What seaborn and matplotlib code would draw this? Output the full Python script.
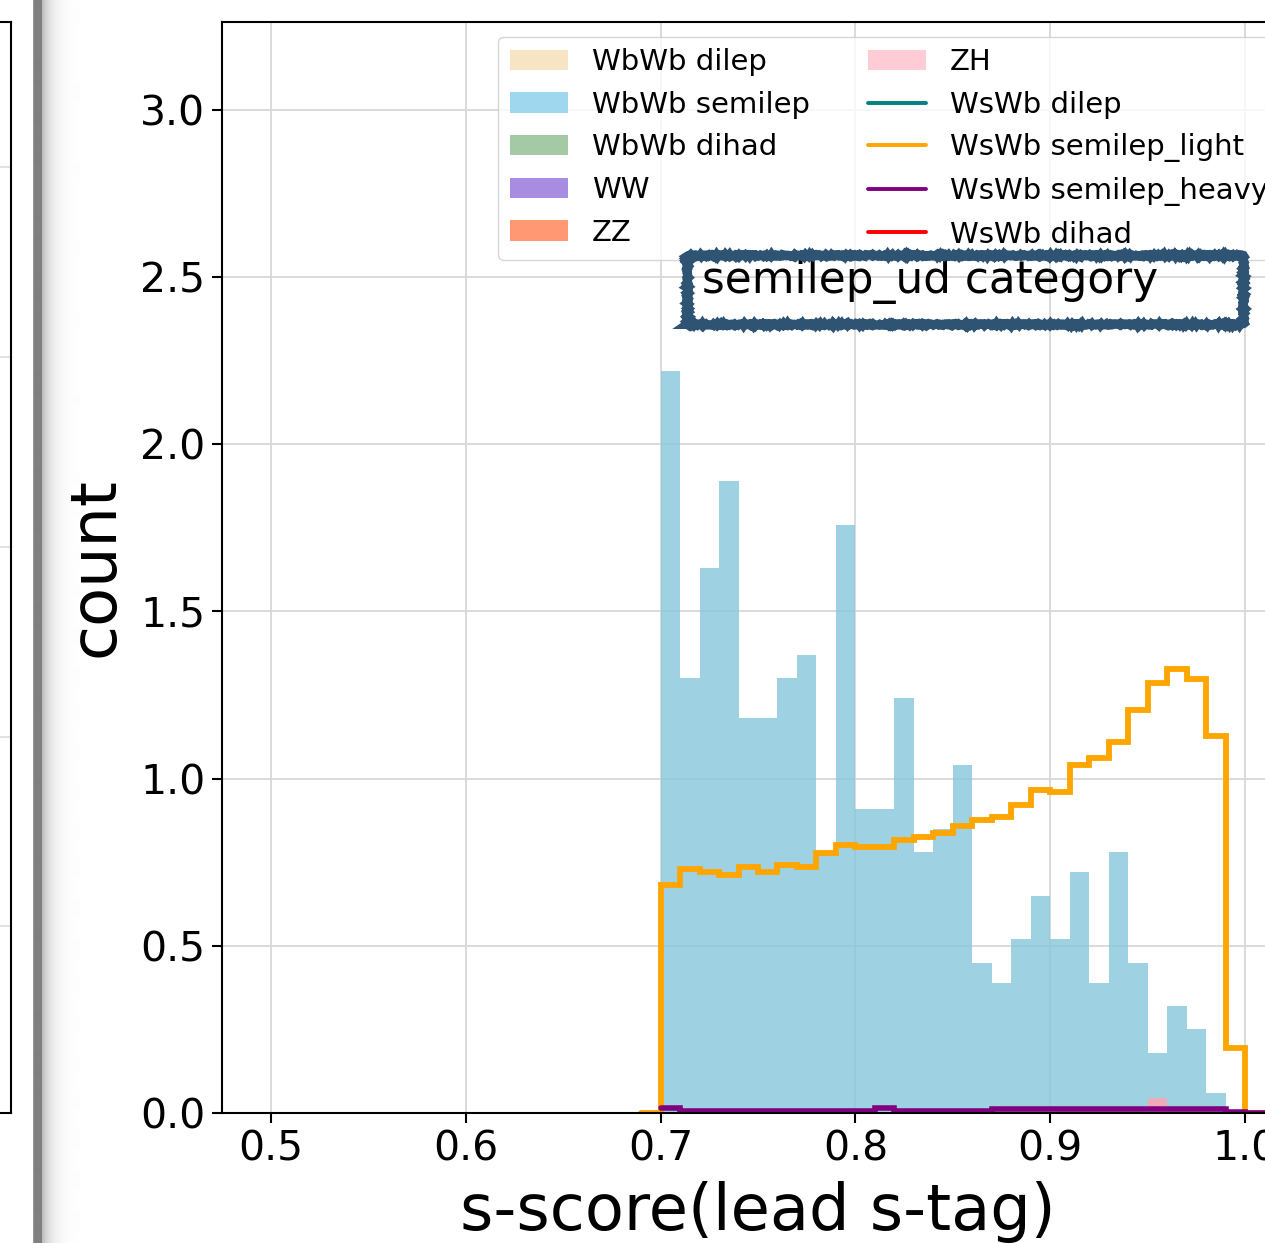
import numpy as np
import pandas as pd
import matplotlib
matplotlib.use("Agg")
import matplotlib.pyplot as plt
import seaborn as sns
from matplotlib.patches import Patch, Rectangle
from matplotlib.lines import Line2D

# bin edges of the s-score histogram (0.01 wide), one empty bin on each side
bin_edges = [round(v, 2) for v in np.arange(0.69, 1.0150, 0.01)]
bin_centers = [round(v, 3) for v in np.arange(0.705, 1.0, 0.01)]

# filled histograms (heights)
wbwb_semilep = [2.22, 1.30, 1.63, 1.89, 1.18, 1.18, 1.30, 1.37, 0.78, 1.76,
                0.91, 0.91, 1.24, 0.78, 0.85, 1.04, 0.45, 0.39, 0.52, 0.65,
                0.52, 0.72, 0.39, 0.78, 0.45, 0.18, 0.32, 0.25, 0.06, 0.0]
zh = [0.0] * 25 + [0.045] + [0.0] * 4

# step histograms
wswb_semilep_light = [0.683, 0.731, 0.720, 0.713, 0.735, 0.720, 0.743, 0.735, 0.779, 0.801,
                      0.795, 0.795, 0.816, 0.824, 0.838, 0.858, 0.877, 0.885, 0.920, 0.967,
                      0.959, 1.040, 1.062, 1.111, 1.205, 1.287, 1.328, 1.298, 1.129, 0.194]
wswb_semilep_heavy = [0.014] + [0.007] * 10 + [0.014] + [0.007] * 5 + [0.012] * 12 + [0.003]

fill_labels = ["WbWb dilep", "WbWb semilep", "WbWb dihad", "WW", "ZZ", "ZH"]
fill_colors = ["wheat", "skyblue", "darkseagreen", "mediumpurple", "coral", "pink"]
line_labels = ["WsWb dilep", "WsWb semilep_light", "WsWb semilep_heavy", "WsWb dihad"]
line_colors = ["teal", "orange", "purple", "red"]

x_ticks = [0.5, 0.6, 0.7, 0.8, 0.9, 1.0]
y_ticks = [0.0, 0.5, 1.0, 1.5, 2.0, 2.5, 3.0]

df = pd.DataFrame({
    "score": bin_centers,
    "wbwb_semilep": wbwb_semilep,
    "zh": zh,
    "light": wswb_semilep_light,
    "heavy": wswb_semilep_heavy,
})

sns.set_theme(style="ticks", rc={"text.color": "black", "axes.labelcolor": "black",
                                 "xtick.color": "black", "ytick.color": "black"})
plt.rcParams["font.family"] = ["DejaVu Sans"]

W, H = 1265, 1243
fig = plt.figure(figsize=(W / 100, H / 100), dpi=100)

# window shadow from the screenshot
shade = np.concatenate([[0.6], np.full(8, 0.5),
                        0.74 + 0.26 * (1 - np.exp(-np.arange(38) / 9.0))])
ax_sh = fig.add_axes([33 / W, 0, len(shade) / W, 1])
ax_sh.imshow(shade[None, :], cmap="gray", vmin=0, vmax=1, aspect="auto",
             interpolation="bilinear")
ax_sh.axis("off")

# neighbouring panel, mostly cut off
ax0 = fig.add_axes([-0.4, (H - 1113) / H, 0.4 + 11 / W, 1091 / H])
ax0.set_ylim(0, 1)
ax0.set_yticks(np.linspace(0.171, 0.867, 5))
ax0.set_xticks([])
ax0.tick_params(length=0, labelleft=False)
ax0.grid(True, axis="y", color="#dddddd", linewidth=1.2)
for s in ax0.spines.values():
    s.set_color("black")
    s.set_linewidth(1.5)

ax = fig.add_axes([222 / W, (H - 1113) / H, 1072 / W, 1091 / H])

sns.histplot(data=df, x="score", weights="wbwb_semilep", bins=bin_edges, element="bars",
             fill=True, color="#86c6da", alpha=0.8, linewidth=0, edgecolor="none",
             antialiased=False, ax=ax)
sns.histplot(data=df, x="score", weights="zh", bins=bin_edges, element="bars",
             fill=True, color="#f7a8b4", alpha=0.9, linewidth=0, edgecolor="none",
             antialiased=False, ax=ax)
sns.histplot(data=df, x="score", weights="light", bins=bin_edges, element="step",
             fill=False, color="orange", linewidth=4.2, ax=ax)
sns.histplot(data=df, x="score", weights="heavy", bins=bin_edges[1:], element="step",
             fill=False, color="purple", linewidth=4.0, ax=ax)
for line in ax.lines:
    line.set_solid_joinstyle("miter")

ax.set_xlim(0.475, 1.025)
ax.set_ylim(0, 3.263)
ax.set_xticks(x_ticks)
ax.set_xticklabels([f"{v:.1f}" for v in x_ticks])
ax.set_yticks(y_ticks)
ax.set_yticklabels([f"{v:.1f}" for v in y_ticks])
ax.grid(True, color="#d8d8d8", linewidth=1.3)
ax.set_axisbelow(True)
ax.tick_params(axis="both", labelsize=29.5, length=7, width=1.5, color="black", pad=5)
for s in ax.spines.values():
    s.set_color("black")
    s.set_linewidth(1.5)
    s.set_zorder(3)
ax.set_xlabel("s-score(lead s-tag)", fontsize=46, labelpad=8)
ax.set_ylabel("count", fontsize=46, labelpad=10)

handles = [Patch(facecolor=c, alpha=0.8, edgecolor="none") for c in fill_colors]
handles += [Line2D([], [], color=c, linewidth=2.8) for c in line_colors]
labels = fill_labels + line_labels
ax.legend(handles, labels, ncol=2, loc="upper right", fontsize=21, frameon=True)

ax.text(0.4478, 0.7516, "semilep_ud category", transform=ax.transAxes,
        fontsize=31.5, va="baseline", ha="left", zorder=6)
box = Rectangle((0.4338, 0.7232), 0.5186, 0.0632, transform=ax.transAxes,
                fill=False, edgecolor="#2f5473", linewidth=6.5, zorder=6)
box.set_sketch_params(scale=0.8, length=1.5, randomness=2.0)
ax.add_patch(box)

fig.savefig("out.png", dpi=100)
